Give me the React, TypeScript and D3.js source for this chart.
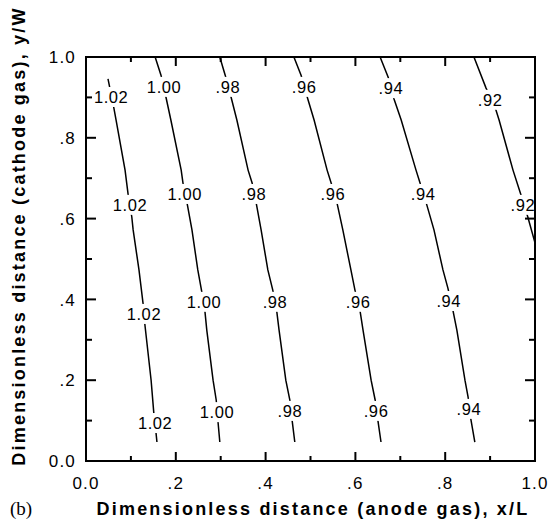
import React from 'react';
import * as d3 from 'd3';

// Axis ticks
const xTickValues = [0, 0.2, 0.4, 0.6, 0.8, 1.0];
const xTickLabels = ['0.0', '.2', '.4', '.6', '.8', '1.0'];
const yTickValues = [0, 0.2, 0.4, 0.6, 0.8, 1.0];
const yTickLabels = ['0.0', '.2', '.4', '.6', '.8', '1.0'];
const minorTickValues = [0.1, 0.3, 0.5, 0.7, 0.9];

// Contour levels and their polylines [x/L, y/W]
const levelNames = ['1.02', '1.00', '.98', '.96', '.94', '.92'];

const contour102: [number, number][] = [
  [0.049, 0.946], [0.062, 0.874], [0.067, 0.844], [0.087, 0.72], [0.094, 0.658],
  [0.102, 0.604], [0.105, 0.572], [0.118, 0.473], [0.127, 0.391], [0.131, 0.339],
  [0.145, 0.2], [0.151, 0.119], [0.156, 0.069], [0.158, 0.047],
];
const contour100: [number, number][] = [
  [0.154, 1.0], [0.167, 0.955], [0.178, 0.901], [0.189, 0.844], [0.212, 0.72],
  [0.216, 0.688], [0.225, 0.639], [0.236, 0.572], [0.249, 0.473], [0.258, 0.418],
  [0.265, 0.369], [0.269, 0.324], [0.283, 0.2], [0.29, 0.151], [0.294, 0.097], [0.298, 0.047],
];
const contour098: [number, number][] = [
  [0.298, 1.0], [0.31, 0.955], [0.323, 0.901], [0.336, 0.844], [0.361, 0.72],
  [0.37, 0.688], [0.379, 0.639], [0.39, 0.572], [0.405, 0.473], [0.416, 0.423],
  [0.425, 0.369], [0.43, 0.324], [0.445, 0.2], [0.454, 0.151], [0.459, 0.101], [0.465, 0.047],
];
const contour096: [number, number][] = [
  [0.463, 1.0], [0.479, 0.955], [0.494, 0.896], [0.508, 0.844], [0.537, 0.72],
  [0.546, 0.688], [0.559, 0.639], [0.572, 0.572], [0.59, 0.473], [0.599, 0.423],
  [0.61, 0.374], [0.617, 0.324], [0.635, 0.2], [0.644, 0.151], [0.65, 0.101], [0.657, 0.047],
];
const contour094: [number, number][] = [
  [0.655, 1.0], [0.673, 0.95], [0.686, 0.896], [0.702, 0.844], [0.735, 0.72],
  [0.744, 0.688], [0.759, 0.634], [0.775, 0.572], [0.795, 0.473], [0.806, 0.428],
  [0.817, 0.374], [0.826, 0.324], [0.844, 0.2], [0.851, 0.158], [0.857, 0.104], [0.866, 0.047],
];
const contour092: [number, number][] = [
  [0.864, 1.0], [0.891, 0.923], [0.913, 0.869], [0.92, 0.844], [0.951, 0.72],
  [0.969, 0.658], [0.984, 0.604], [1.0, 0.54],
];

// Inline label anchor positions [x/L, y/W]
const labels102: [number, number][] = [[0.056, 0.901], [0.098, 0.634], [0.129, 0.364], [0.154, 0.094]];
const labels100: [number, number][] = [[0.174, 0.926], [0.22, 0.661], [0.263, 0.394], [0.292, 0.121]];
const labels098: [number, number][] = [[0.316, 0.926], [0.374, 0.661], [0.421, 0.394], [0.454, 0.124]];
const labels096: [number, number][] = [[0.486, 0.926], [0.55, 0.661], [0.606, 0.394], [0.646, 0.124]];
const labels094: [number, number][] = [[0.679, 0.923], [0.751, 0.661], [0.808, 0.396], [0.853, 0.129]];
const labels092: [number, number][] = [[0.9, 0.894], [0.973, 0.634]];

const contours = [contour102, contour100, contour098, contour096, contour094, contour092];
const labelSets = [labels102, labels100, labels098, labels096, labels094, labels092];

const xTitle = 'Dimensionless distance (anode gas), x/L';
const yTitle = 'Dimensionless distance (cathode gas), y/W';
const panelTag = '(b)';

const W = 550;
const H = 520;
const PL = 86, PR = 535, PT = 57, PB = 461;

export default function App() {
  const x = d3.scaleLinear().domain([0, 1]).range([PL, PR]);
  const y = d3.scaleLinear().domain([0, 1]).range([PB, PT]);
  const line = d3
    .line<[number, number]>()
    .x((d) => x(d[0]))
    .y((d) => y(d[1]));

  const font = "'Liberation Sans', Arial, Helvetica, sans-serif";
  const majorLen = 9;
  const minorLen = 5;

  return (
    <svg
      width={W}
      height={H}
      viewBox={`0 0 ${W} ${H}`}
      style={{ position: 'absolute', left: 0, top: 0, background: '#fff' }}
    >
      <rect x={0} y={0} width={W} height={H} fill="#fff" />
      <defs>
        <clipPath id="plotClip">
          <rect x={PL} y={PT} width={PR - PL} height={PB - PT} />
        </clipPath>
      </defs>

      {/* contour lines */}
      <g clipPath="url(#plotClip)">
        {contours.map((c, i) => (
          <path key={i} d={line(c) || ''} fill="none" stroke="#000" strokeWidth={1.5} />
        ))}
      </g>

      {/* inline labels */}
      {labelSets.map((set, i) =>
        set.map((p, j) => {
          const txt = levelNames[i];
          const w = txt.length * 9.2 + 2;
          return (
            <g key={`${i}-${j}`}>
              <rect x={x(p[0]) - w / 2} y={y(p[1]) - 10} width={w} height={20} fill="#fff" />
              <text
                x={x(p[0])}
                y={y(p[1])}
                dy="0.36em"
                textAnchor="middle"
                fontFamily={font}
                fontSize={16.5}
                letterSpacing={0.6}
                fill="#000"
              >
                {txt}
              </text>
            </g>
          );
        })
      )}

      {/* ticks */}
      <g stroke="#000" strokeWidth={2}>
        {xTickValues.map((v, i) => (
          <g key={`xt${i}`}>
            <line x1={x(v)} x2={x(v)} y1={PB} y2={PB - majorLen} />
            <line x1={x(v)} x2={x(v)} y1={PT} y2={PT + majorLen} />
          </g>
        ))}
        {minorTickValues.map((v, i) => (
          <g key={`xm${i}`}>
            <line x1={x(v)} x2={x(v)} y1={PB} y2={PB - minorLen} />
            <line x1={x(v)} x2={x(v)} y1={PT} y2={PT + minorLen} />
          </g>
        ))}
        {yTickValues.map((v, i) => (
          <g key={`yt${i}`}>
            <line x1={PL} x2={PL + majorLen + 1} y1={y(v)} y2={y(v)} />
            <line x1={PR} x2={PR - majorLen - 1} y1={y(v)} y2={y(v)} />
          </g>
        ))}
        {minorTickValues.map((v, i) => (
          <g key={`ym${i}`}>
            <line x1={PL} x2={PL + minorLen + 1} y1={y(v)} y2={y(v)} />
            <line x1={PR} x2={PR - minorLen - 1} y1={y(v)} y2={y(v)} />
          </g>
        ))}
      </g>

      {/* frame */}
      <rect x={PL} y={PT} width={PR - PL} height={PB - PT} fill="none" stroke="#000" strokeWidth={2} />

      {/* tick labels */}
      {xTickValues.map((v, i) => (
        <text
          key={`xl${i}`}
          x={x(v)}
          y={489}
          textAnchor="middle"
          fontFamily={font}
          fontSize={17}
          letterSpacing={1.2}
          fill="#000"
        >
          {xTickLabels[i]}
        </text>
      ))}
      {yTickValues.map((v, i) => (
        <text
          key={`yl${i}`}
          x={76}
          y={y(v)}
          dy="0.36em"
          textAnchor="end"
          fontFamily={font}
          fontSize={17}
          letterSpacing={1.2}
          fill="#000"
        >
          {yTickLabels[i]}
        </text>
      ))}

      {/* axis titles */}
      <text
        x={313}
        y={515}
        textAnchor="middle"
        fontFamily={font}
        fontWeight="bold"
        fontSize={18}
        letterSpacing={2.2}
        fill="#000"
      >
        {xTitle}
      </text>
      <text
        transform={`translate(25, 236) rotate(-90)`}
        textAnchor="middle"
        fontFamily={font}
        fontWeight="bold"
        fontSize={18}
        letterSpacing={2.2}
        fill="#000"
      >
        {yTitle}
      </text>
      <text x={10} y={515} fontFamily="'Liberation Serif', 'Times New Roman', serif" fontSize={19} fill="#000">
        {panelTag}
      </text>
    </svg>
  );
}
